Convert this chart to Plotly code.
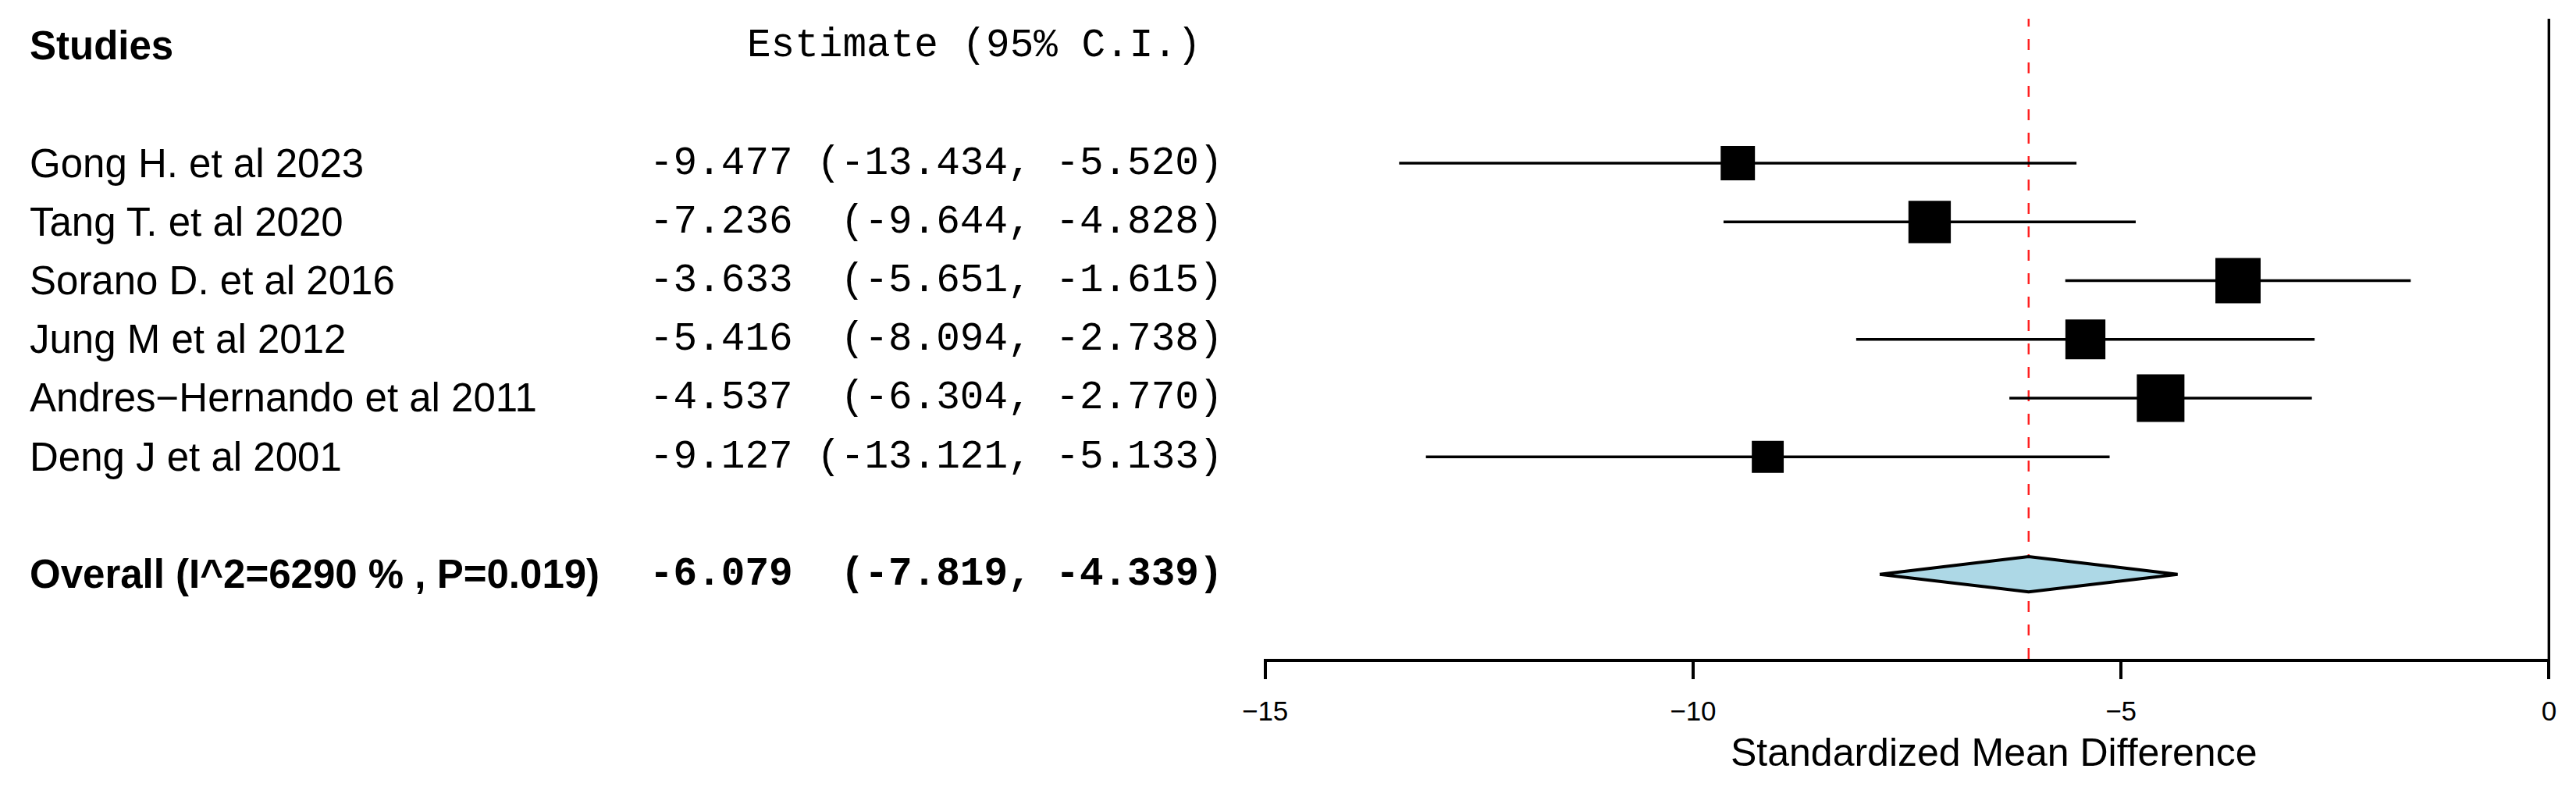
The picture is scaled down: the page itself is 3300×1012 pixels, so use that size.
import plotly.graph_objects as go

# study rows, top to bottom
studies = [
    "Gong H. et al 2023",
    "Tang T. et al 2020",
    "Sorano D. et al 2016",
    "Jung M et al 2012",
    "Andres\u2212Hernando et al 2011",
    "Deng J et al 2001",
]
estimate = [-9.477, -7.236, -3.633, -5.416, -4.537, -9.127]
ci_low = [-13.434, -9.644, -5.651, -8.094, -6.304, -13.121]
ci_high = [-5.520, -4.828, -1.615, -2.738, -2.770, -5.133]
# relative box size (largest = 1)
box_weight = [0.72, 0.89, 0.95, 0.84, 1.00, 0.67]

overall_label = "Overall (I^2=6290 % , P=0.019)"
overall_est = -6.079
overall_low = -7.819
overall_high = -4.339

x_ticks = [-15, -10, -5, 0]
x_title = "Standardized Mean Difference"

SANS = "Liberation Sans, Arial, sans-serif"
MONO = "Liberation Mono, Courier New, monospace"
NB = "\u00a0"


def fmt_ci(est, lo, hi):
    s = (
        f"{est:.3f}".rjust(6)
        + " "
        + f"({lo:.3f},".rjust(9)
        + " "
        + f"{hi:.3f})".rjust(7)
    )
    return s.replace(" ", NB)


study_rows = list(range(2, 2 + len(studies)))
overall_row = study_rows[-1] + 2
header_row = 0

fig = go.Figure()

# confidence interval lines
for y, lo, hi in zip(study_rows, ci_low, ci_high):
    fig.add_trace(
        go.Scatter(
            x=[lo, hi],
            y=[y, y],
            mode="lines",
            line={"color": "black", "width": 3.5},
            hoverinfo="skip",
        )
    )

# weighted boxes
fig.add_trace(
    go.Scatter(
        x=estimate,
        y=study_rows,
        mode="markers",
        marker={
            "symbol": "square",
            "color": "black",
            "opacity": 1,
            "size": [w * 61 for w in box_weight],
            "line": {"width": 0},
        },
        text=studies,
        hovertemplate="%{text}: %{x}<extra></extra>",
    )
)

# summary diamond
half_h = 0.3
fig.add_trace(
    go.Scatter(
        x=[overall_low, overall_est, overall_high, overall_est, overall_low],
        y=[
            overall_row,
            overall_row - half_h,
            overall_row,
            overall_row + half_h,
            overall_row,
        ],
        mode="lines",
        fill="toself",
        fillcolor="#add8e6",
        line={"color": "black", "width": 4},
        hoverinfo="skip",
    )
)

# summary estimate (dashed) and no-effect line
fig.add_shape(
    type="line",
    x0=overall_est,
    x1=overall_est,
    xref="x",
    y0=0,
    y1=1,
    yref="y domain",
    line={"color": "#ff2020", "width": 2.5, "dash": "14px,16px"},
    layer="below",
)
fig.add_shape(
    type="line",
    x0=0,
    x1=0,
    xref="x",
    y0=0,
    y1=1,
    yref="y domain",
    line={"color": "black", "width": 3.5},
)

# text columns
ann = []
ann.append(
    dict(
        text="<b>Studies</b>", x=36 / 3300, xanchor="left", y=header_row,
        font={"family": SANS, "size": 51},
    )
)
ann.append(
    dict(
        text="Estimate (95% C.I.)".replace(" ", NB), x=1541 / 3300,
        xanchor="right", y=header_row, font={"family": MONO, "size": 51},
    )
)
for y, name, e, lo, hi in zip(study_rows, studies, estimate, ci_low, ci_high):
    ann.append(
        dict(
            text=name, x=36 / 3300, xanchor="left", y=y,
            font={"family": SANS, "size": 51},
        )
    )
    ann.append(
        dict(
            text=fmt_ci(e, lo, hi), x=1569 / 3300, xanchor="right", y=y,
            font={"family": MONO, "size": 51},
        )
    )
ann.append(
    dict(
        text="<b>" + overall_label + "</b>", x=36 / 3300, xanchor="left",
        y=overall_row, font={"family": SANS, "size": 51},
    )
)
ann.append(
    dict(
        text="<b>" + fmt_ci(overall_est, overall_low, overall_high) + "</b>",
        x=1569 / 3300, xanchor="right", y=overall_row,
        font={"family": MONO, "size": 51},
    )
)
for a in ann:
    a.update(xref="paper", yref="y", yanchor="middle", showarrow=False)
    a["font"]["color"] = "black"

# x-axis title
ann.append(
    dict(
        text=x_title, x=2554 / 3300, y=(1012 - 964) / 1012, xref="paper",
        yref="paper", xanchor="center", yanchor="middle", showarrow=False,
        font={"family": SANS, "size": 50, "color": "black"},
    )
)

fig.update_layout(
    width=3300,
    height=1012,
    margin={"l": 0, "r": 0, "t": 0, "b": 0, "autoexpand": False},
    paper_bgcolor="white",
    plot_bgcolor="white",
    showlegend=False,
    annotations=ann,
    xaxis={
        "domain": [1619 / 3300, 3267 / 3300],
        "range": [-15.015, 0.015],
        "automargin": False,
        "tickvals": x_ticks,
        "ticks": "outside",
        "ticklen": 22,
        "tickwidth": 3.5,
        "tickcolor": "black",
        "ticklabelstandoff": 11,
        "showline": True,
        "linecolor": "black",
        "linewidth": 3.5,
        "showgrid": False,
        "zeroline": False,
        "tickfont": {"family": SANS, "size": 35, "color": "black"},
    },
    yaxis={
        "domain": [(1012 - 844) / 1012, (1012 - 24) / 1012],
        "range": [10.44, -0.46],
        "automargin": False,
        "visible": False,
    },
)

fig.write_html(
    "out.html",
    config={"displayModeBar": False},
    post_script="document.body.style.margin='0';document.body.style.overflow='hidden';",
)
